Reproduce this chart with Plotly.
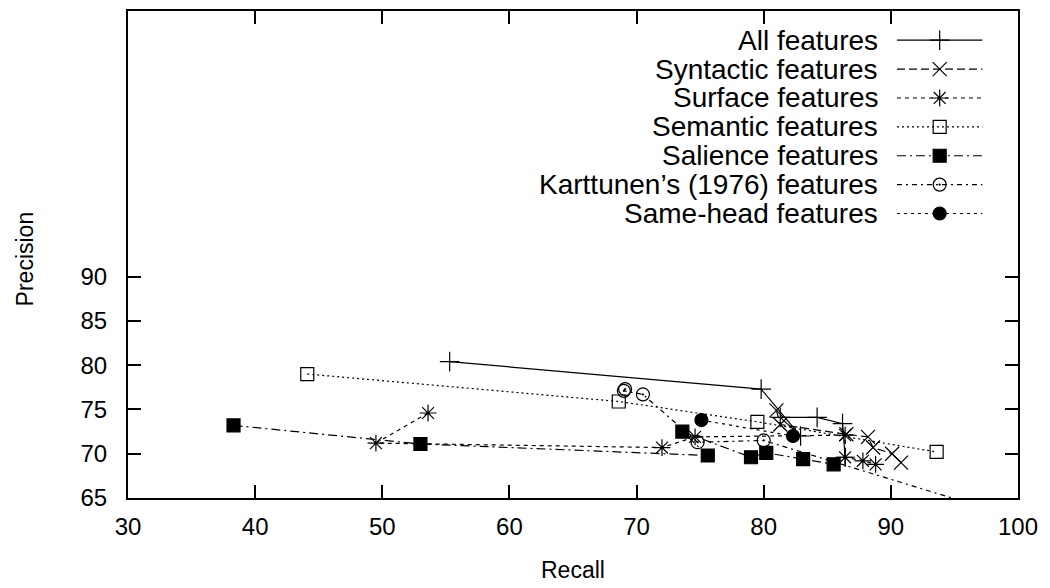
import plotly.graph_objects as go

# Recall / precision pairs for each feature set
all_recall = [55.3, 79.8, 82.9, 81.3, 84.2, 86.2, 86.4]
all_precision = [80.4, 77.3, 72.0, 74.1, 74.1, 73.4, 69.6]

syn_recall = [81.0, 81.3, 86.5, 88.2, 88.6, 90.1, 90.8]
syn_precision = [74.9, 73.3, 72.2, 71.9, 70.7, 70.0, 69.0]

sur_recall = [53.6, 49.5, 72.0, 74.6, 86.4, 86.4, 87.8, 88.8]
sur_precision = [74.6, 71.2, 70.7, 71.9, 72.1, 69.6, 69.2, 68.8]

sem_recall = [44.1, 68.6, 79.5, 93.6]
sem_precision = [79.0, 75.9, 73.6, 70.2]

sal_recall = [38.3, 53.0, 75.6, 73.6, 79.0, 80.2, 83.1, 85.5]
sal_precision = [73.2, 71.1, 69.8, 72.5, 69.6, 70.1, 69.4, 68.8]

kar_recall = [69.1, 69.0, 70.5, 74.8, 80.0, 98.0]
kar_precision = [77.3, 77.1, 76.7, 71.3, 71.5, 63.6]

sh_recall = [75.1, 82.3]
sh_precision = [73.8, 72.0]

x_ticks = [30, 40, 50, 60, 70, 80, 90, 100]
y_ticks = [65, 70, 75, 80, 85, 90]

series_names = [
    "All features",
    "Syntactic features",
    "Surface features",
    "Semantic features",
    "Salience features",
    "Karttunen\u2019s (1976) features",
    "Same-head features",
]

FONT = "Liberation Sans, Arial, Helvetica, sans-serif"
INK = "black"

styles = [
    dict(dash="solid", symbol="cross-thin-open", size=14),
    dict(dash="8px,4px", symbol="x-thin-open", size=14),
    dict(dash="4px,4px", symbol="asterisk-open", size=14),
    dict(dash="2px,3px", symbol="square-open", size=13),
    dict(dash="9px,4px,2px,4px", symbol="square", size=13),
    dict(dash="5px,4px,2px,4px", symbol="circle-open-dot", size=13),
    dict(dash="3px,4px", symbol="circle", size=13),
]

data = [
    (all_recall, all_precision),
    (syn_recall, syn_precision),
    (sur_recall, sur_precision),
    (sem_recall, sem_precision),
    (sal_recall, sal_precision),
    (kar_recall, kar_precision),
    (sh_recall, sh_precision),
]

fig = go.Figure()

for (xs, ys), name, st in zip(data, series_names, styles):
    fig.add_trace(go.Scatter(
        x=xs, y=ys, name=name, mode="lines+markers",
        line=dict(color=INK, width=1.2, dash=st["dash"]),
        marker=dict(symbol=st["symbol"], size=st["size"], color=INK,
                    line=dict(color=INK, width=1.2)),
        showlegend=False, cliponaxis=True,
    ))

# Key drawn gnuplot-style: right-aligned label, then a sample line with its marker
key_x0, key_x1 = 0.864, 0.96
key_text_x = 0.845
key_top, key_step = 0.94, 0.0593
for i, (name, st) in enumerate(zip(series_names, styles)):
    ky = key_top - i * key_step
    fig.add_trace(go.Scatter(
        x=[key_x0, key_x1], y=[ky, ky], mode="lines", xaxis="x2", yaxis="y2",
        line=dict(color=INK, width=1.2, dash=st["dash"]), showlegend=False,
        hoverinfo="skip",
    ))
    fig.add_trace(go.Scatter(
        x=[(key_x0 + key_x1) / 2], y=[ky], mode="markers", xaxis="x2", yaxis="y2",
        marker=dict(symbol=st["symbol"], size=st["size"], color=INK,
                    line=dict(color=INK, width=1.2)),
        showlegend=False, hoverinfo="skip",
    ))
    fig.add_annotation(
        x=key_text_x, y=ky, xref="paper", yref="paper", text=name,
        showarrow=False, xanchor="right", yanchor="middle",
        font=dict(family=FONT, size=28, color=INK),
    )

axis_common = dict(
    showgrid=False, zeroline=False, showline=True, linecolor=INK, linewidth=2,
    mirror="ticks", ticks="inside", ticklen=13, tickwidth=1.5, tickcolor=INK,
    tickfont=dict(family=FONT, size=24, color=INK),
)

fig.update_layout(
    width=1050, height=588,
    margin=dict(l=128, r=32, t=9, b=90),
    paper_bgcolor="white", plot_bgcolor="white",
    xaxis=dict(range=[30, 100], tickvals=x_ticks, ticklabelstandoff=6, **axis_common),
    yaxis=dict(range=[65, 120], tickvals=y_ticks, ticklabelstandoff=14, **axis_common),
    xaxis2=dict(range=[0, 1], domain=[0, 1], overlaying="x", visible=False),
    yaxis2=dict(range=[0, 1], domain=[0, 1], overlaying="y", visible=False),
    font=dict(family=FONT, color=INK),
)

fig.add_annotation(x=0.5, y=-0.147, xref="paper", yref="paper", text="Recall",
                   showarrow=False, xanchor="center", yanchor="middle",
                   font=dict(family=FONT, size=23, color=INK))
fig.add_annotation(x=-0.1157, y=0.49, xref="paper", yref="paper", text="Precision",
                   showarrow=False, textangle=-90, xanchor="center", yanchor="middle",
                   font=dict(family=FONT, size=23, color=INK))

fig.write_html("out.html")
